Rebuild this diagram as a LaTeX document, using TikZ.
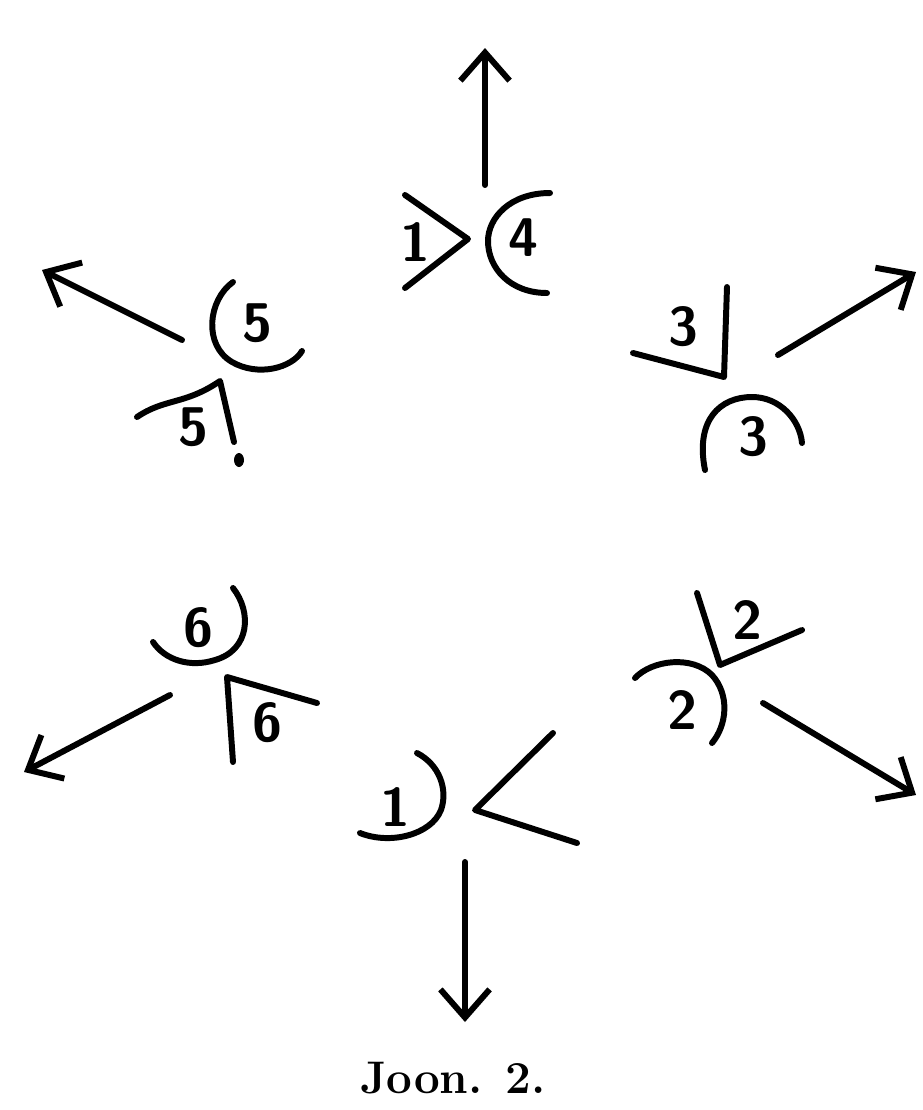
\documentclass[tikz,border=0pt]{standalone}
\usepackage{tikz}
\usepackage{xcolor}
\usetikzlibrary{arrows.meta}

\tikzset{
  stroke/.style={line width=3.4pt, line cap=round, line join=round},
  dirarrow/.style={stroke, -{Straight Barb[length=16pt,width=28pt,line width=3.4pt]}},
  num/.style={font=\sffamily\bfseries\fontsize{31}{31}\selectfont, inner sep=0pt}
}

\begin{document}
\begin{tikzpicture}[x=0.02cm, y=-0.02cm]
                    \useasboundingbox (0,0) rectangle (923,1110);
                    % group 4 (top)
                    \coordinate (startFour) at (485,185);
                    \coordinate (endFour) at (485,48);
                    \draw[dirarrow] (startFour) -- (endFour);
                    \draw[stroke] (405,195) -- (468,239) -- (405,288);
                    \draw[stroke] (550,193) .. controls (510,193) and (488,218) .. (488,241) .. controls (488,268) and (510,293) .. (547,293);
                    \node[num] (angleFour) at (415,242) {1};
                    \node[num] (arcFour) at (523,238) {4};
                    % group 5 (upper left)
                    \coordinate (startFive) at (182,340);
                    \coordinate (endFive) at (42,270);
                    \draw[dirarrow] (startFive) -- (endFive);
                    \draw[stroke] (233,282) .. controls (208,300) and (203,345) .. (232,362) .. controls (258,377) and (292,368) .. (302,351);
                    \draw[stroke] (137,417) .. controls (165,398) and (185,405) .. (220,381) -- (234,442);
                    \fill (239,460) ellipse (5 and 7);
                    \node[num] (arcFive) at (257,323) {5};
                    \node[num] (angleFive) at (193,427) {5};
                    % group 3 (upper right)
                    \coordinate (startThree) at (778,355);
                    \coordinate (endThree) at (916,272);
                    \draw[dirarrow] (startThree) -- (endThree);
                    \draw[stroke] (727,287) -- (724,377) -- (633,353);
                    \draw[stroke] (705,470) .. controls (695,420) and (720,397) .. (752,397) .. controls (780,397) and (800,420) .. (802,443);
                    \node[num] (angleThree) at (683,327) {3};
                    \node[num] (arcThree) at (753,437) {3};
                    % group 6 (lower left)
                    \coordinate (startSix) at (170,695);
                    \coordinate (endSix) at (24,772);
                    \draw[dirarrow] (startSix) -- (endSix);
                    \draw[stroke] (233,588) .. controls (252,612) and (250,650) .. (215,660) .. controls (190,668) and (165,660) .. (153,642);
                    \draw[stroke] (233,762) -- (227,677) -- (317,703);
                    \node[num] (arcSix) at (198,628) {6};
                    \node[num] (angleSix) at (267,723) {6};
                    % group 2 (lower right)
                    \coordinate (startTwo) at (763,703);
                    \coordinate (endTwo) at (916,795);
                    \draw[dirarrow] (startTwo) -- (endTwo);
                    \draw[stroke] (697,593) -- (720,665) -- (802,630);
                    \draw[stroke] (635,678) .. controls (652,660) and (692,655) .. (712,675) .. controls (730,695) and (727,725) .. (712,743);
                    \node[num] (angleTwo) at (747,620) {2};
                    \node[num] (arcTwo) at (682,710) {2};
                    % group 1 (bottom)
                    \coordinate (startOne) at (465,862);
                    \coordinate (endOne) at (465,1022);
                    \draw[dirarrow] (startOne) -- (endOne);
                    \draw[stroke] (417,753) .. controls (440,765) and (448,790) .. (441,810) .. controls (431,835) and (390,845) .. (360,833);
                    \draw[stroke] (553,733) -- (475,810) -- (577,843);
                    \node[num] (arcOne) at (395,807) {1};
                    % caption
                    \node[font=\bfseries\fontsize{26}{26}\selectfont] (caption) at (453,1078) {Joon. 2.};
                \end{tikzpicture}
\end{document}
